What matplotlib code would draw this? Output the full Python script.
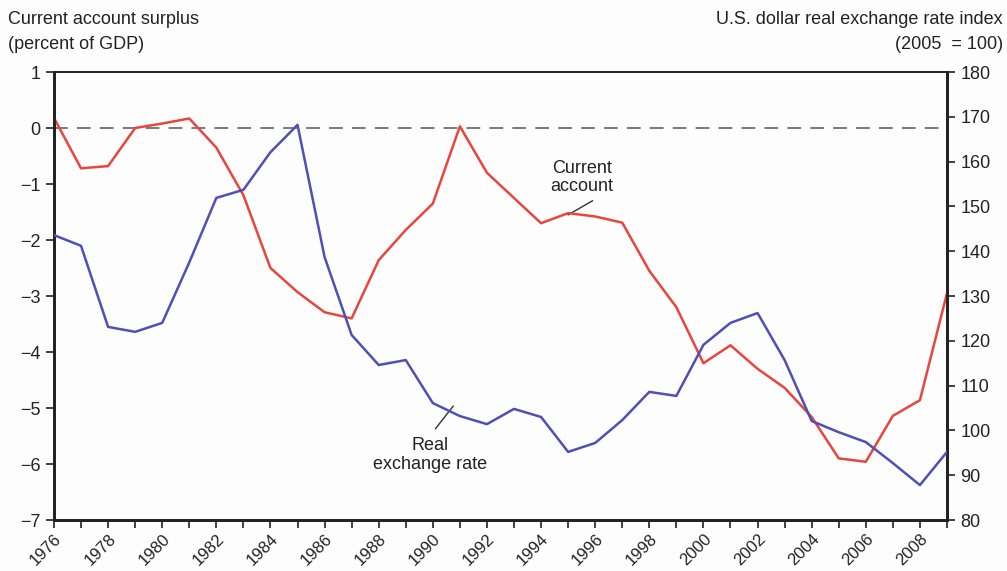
import matplotlib.pyplot as plt

plt.rcParams['font.family'] = ['Liberation Sans', 'DejaVu Sans']

years = list(range(1976, 2010))
current_account = [0.18, -0.72, -0.68, 0.0, 0.08, 0.17, -0.35, -1.2, -2.5, -2.93,
                   -3.29, -3.4, -2.36, -1.82, -1.35, 0.03, -0.8, -1.25, -1.7, -1.52,
                   -1.58, -1.69, -2.55, -3.2, -4.2, -3.88, -4.3, -4.64, -5.16, -5.9,
                   -5.96, -5.14, -4.86, -2.95]
real_rate = [143.6, 141.2, 123.1, 122.0, 124.0, 137.5, 151.9, 153.7, 162.1, 168.2,
             138.7, 121.3, 114.6, 115.7, 106.1, 103.2, 101.4, 104.8, 103.0, 95.2,
             97.2, 102.3, 108.6, 107.7, 119.1, 124.0, 126.2, 115.7, 102.1, 99.6,
             97.4, 92.7, 87.8, 95.2]
left_ticks = [1, 0, -1, -2, -3, -4, -5, -6, -7]
right_ticks = [180, 170, 160, 150, 140, 130, 120, 110, 100, 90, 80]

red = '#e8463c'
blue = '#4f4fb5'

fig = plt.figure(figsize=(10.07, 5.71), dpi=100)
fig.patch.set_facecolor('#fdfdfd')
ax = fig.add_axes([0.0536, 0.0893, 0.8868, 0.7846])
ax.set_facecolor('#fdfdfd')
ax2 = ax.twinx()

ax.axhline(0, color='#555555', lw=1.1, dashes=(9, 6))
ax.plot(years, current_account, color=red, lw=1.8, zorder=3)
ax2.plot(years, real_rate, color=blue, lw=1.8, zorder=3)

ax.set_xlim(1976, 2009)
ax.set_ylim(-7, 1)
ax2.set_ylim(80, 180)
ax.set_yticks(left_ticks)
ax.set_yticklabels([str(t).replace('-', '\u2212') for t in left_ticks])
ax2.set_yticks(right_ticks)

ax.set_xticks(years, minor=True)
ax.set_xticks(years[::2])
ax.set_xticklabels([str(y) for y in years[::2]], rotation=45, ha='right',
                   rotation_mode='anchor')
ax.tick_params(axis='x', which='both', direction='out', length=6, width=1.2,
               labelsize=12, color='#222222', labelcolor='#222222', pad=2)
ax.tick_params(axis='y', direction='out', length=6, width=1.2, labelsize=13,
               color='#222222', labelcolor='#222222')
ax2.tick_params(axis='y', direction='out', length=6, width=1.2, labelsize=13,
                color='#222222', labelcolor='#222222')

for a in (ax, ax2):
    a.spines['left'].set_linewidth(2)
    a.spines['bottom'].set_linewidth(2)
    a.spines['right'].set_linewidth(2)
    a.spines['top'].set_linewidth(1.2)
    for s in a.spines.values():
        s.set_color('#222222')

fig.text(0.008, 0.965, 'Current account surplus', fontsize=13, color='#222222', va='center')
fig.text(0.008, 0.922, '(percent of GDP)', fontsize=13, color='#222222', va='center')
fig.text(0.996, 0.965, 'U.S. dollar real exchange rate index', fontsize=13,
         color='#222222', va='center', ha='right')
fig.text(0.996, 0.922, '(2005  = 100)', fontsize=13, color='#222222', va='center', ha='right')

ax.text(1995.5, -0.88, 'Current\naccount', fontsize=13, color='#222222',
        ha='center', va='center', linespacing=1.1)
ax.plot([1995.9, 1995.0], [-1.3, -1.55], color='#333333', lw=1)
ax2.text(1989.9, 94.5, 'Real\nexchange rate', fontsize=13, color='#222222',
         ha='center', va='center', linespacing=1.1)
ax2.plot([1990.1, 1990.75], [100.4, 105.4], color='#333333', lw=1)

fig.savefig('out.png', dpi=100, facecolor=fig.get_facecolor())
